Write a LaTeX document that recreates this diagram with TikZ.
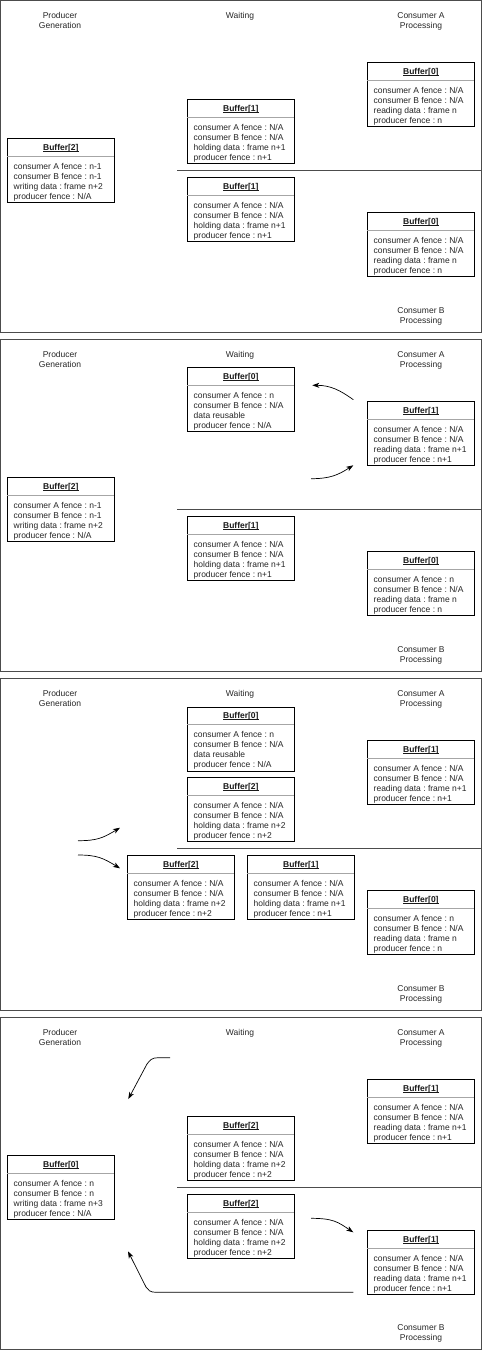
\documentclass[tikz,border=0pt]{standalone}
\usepackage{fontspec}
\setmainfont{Liberation Sans}
\usetikzlibrary{calc,arrows.meta}
\frenchspacing

\newcommand{\ulbuf}[1]{\setbox0\hbox{#1}\rlap{\rule[-1.3pt]{\wd0}{0.6pt}}\box0}

\tikzset{
  bufbox/.style={draw=black, line width=0.7pt, fill=white, minimum width=107pt,
    minimum height=64pt, inner sep=0pt, anchor=north west},
  buftitle/.style={font=\fontsize{8.5}{10}\selectfont\bfseries, anchor=base,
    inner sep=0pt, text=black!90},
  bufsep/.style={draw=black!35, line width=0.9pt},
  bufbody/.style={font=\fontsize{8.5}{10}\selectfont\frenchspacing, align=left, anchor=north west,
    inner sep=0pt, text=black!85},
  lbl/.style={font=\fontsize{8.5}{10}\selectfont, align=center, anchor=north,
    inner sep=0pt, text=black!85},
  panelframe/.style={draw=black!70, line width=0.8pt},
  divider/.style={draw=black!70, line width=0.8pt},
  flow/.style={draw=black, line width=0.7pt, -{Stealth[length=7pt,width=5pt,inset=2pt]}},
}

% #1 name, #2 left x, #3 top y, #4 title, #5-#8 body lines
\newcommand{\mkbuf}[8]{%
  \node[bufbox] (#1) at (#2,#3) {};
  \node[buftitle] (#1-t) at ($(#1.north)+(0,12)$) {\ulbuf{#4}};
  \draw[bufsep] ($(#1.north west)+(0.4,18)$) -- ($(#1.north east)+(-0.4,18)$);
  \node[bufbody] (#1-b) at ($(#1.north west)+(6.5,25)$) {#5\\#6\\#7\\#8};
}

% panel labels: #1 prefix
\newcommand{\mklabels}[1]{%
  \draw[panelframe] (0.5,0.5) rectangle (481,332.5);
  \node[lbl] (#1-lp) at (60,12.2) {Producer\\Generation};
  \node[lbl] (#1-lw) at (240,11.7) {Waiting};
  \node[lbl] (#1-la) at (421,12.2) {Consumer A\\Processing};
  \node[lbl] (#1-lb) at (421,307) {Consumer B\\Processing};
  \coordinate (#1-d1) at (177,170);
  \coordinate (#1-d2) at (481,170);
  \draw[divider] (#1-d1) -- (#1-d2);
}

\begin{document}
\begin{tikzpicture}[x=1pt,y=-1pt]
\useasboundingbox (0,0) rectangle (482,1350);

% ---------------- Panel 1 ----------------
\begin{scope}
\mklabels{p1}
\mkbuf{p1g}{7}{138}{Buffer[2]}{consumer A fence : n-1}{consumer B fence : n-1}{writing data : frame n+2}{producer fence : N/A}
\mkbuf{p1w1}{187}{99}{Buffer[1]}{consumer A fence : N/A}{consumer B fence : N/A}{holding data : frame n+1}{producer fence : n+1}
\mkbuf{p1w2}{187}{177}{Buffer[1]}{consumer A fence : N/A}{consumer B fence : N/A}{holding data : frame n+1}{producer fence : n+1}
\mkbuf{p1a}{367}{62}{Buffer[0]}{consumer A fence : N/A}{consumer B fence : N/A}{reading data : frame n}{producer fence : n}
\mkbuf{p1b}{367}{212}{Buffer[0]}{consumer A fence : N/A}{consumer B fence : N/A}{reading data : frame n}{producer fence : n}
\end{scope}

% ---------------- Panel 2 ----------------
\begin{scope}[yshift=-339pt]
\mklabels{p2}
\mkbuf{p2w1}{187}{28}{Buffer[0]}{consumer A fence : n}{consumer B fence : N/A}{data reusable}{producer fence : N/A}
\mkbuf{p2a}{367}{62}{Buffer[1]}{consumer A fence : N/A}{consumer B fence : N/A}{reading data : frame n+1}{producer fence : n+1}
\mkbuf{p2g}{7}{138}{Buffer[2]}{consumer A fence : n-1}{consumer B fence : n-1}{writing data : frame n+2}{producer fence : N/A}
\mkbuf{p2w2}{187}{177}{Buffer[1]}{consumer A fence : N/A}{consumer B fence : N/A}{holding data : frame n+1}{producer fence : n+1}
\mkbuf{p2b}{367}{212}{Buffer[0]}{consumer A fence : n}{consumer B fence : N/A}{reading data : frame n}{producer fence : n}
\coordinate (p2r1s) at (353.3,60.7);
\coordinate (p2r1e) at (312.3,46.3);
\draw[flow] (p2r1s) .. controls (340,51) and (330,46.3) .. (p2r1e);
\coordinate (p2r2s) at (311,139.7);
\coordinate (p2r2e) at (353.3,126.3);
\draw[flow] (p2r2s) .. controls (330,139.7) and (338,136) .. (p2r2e);
\end{scope}

% ---------------- Panel 3 ----------------
\begin{scope}[yshift=-678pt]
\mklabels{p3}
\mkbuf{p3w1}{187}{28.5}{Buffer[0]}{consumer A fence : n}{consumer B fence : N/A}{data reusable}{producer fence : N/A}
\mkbuf{p3w2}{187}{99}{Buffer[2]}{consumer A fence : N/A}{consumer B fence : N/A}{holding data : frame n+2}{producer fence : n+2}
\mkbuf{p3a}{367}{62}{Buffer[1]}{consumer A fence : N/A}{consumer B fence : N/A}{reading data : frame n+1}{producer fence : n+1}
\mkbuf{p3n2}{127}{177}{Buffer[2]}{consumer A fence : N/A}{consumer B fence : N/A}{holding data : frame n+2}{producer fence : n+2}
\mkbuf{p3n1}{247}{177}{Buffer[1]}{consumer A fence : N/A}{consumer B fence : N/A}{holding data : frame n+1}{producer fence : n+1}
\mkbuf{p3b}{367}{212}{Buffer[0]}{consumer A fence : n}{consumer B fence : N/A}{reading data : frame n}{producer fence : n}
\coordinate (p3u s) at (78,162.7);
\coordinate (p3u e) at (120,149.7);
\draw[flow] (p3u s) .. controls (97,162.7) and (103,160) .. (p3u e);
\coordinate (p3d s) at (78,177);
\coordinate (p3d e) at (120,190.3);
\draw[flow] (p3d s) .. controls (97,177) and (103,180) .. (p3d e);
\end{scope}

% ---------------- Panel 4 ----------------
\begin{scope}[yshift=-1017pt]
\mklabels{p4}
\mkbuf{p4a}{367}{62}{Buffer[1]}{consumer A fence : N/A}{consumer B fence : N/A}{reading data : frame n+1}{producer fence : n+1}
\mkbuf{p4w1}{187}{99}{Buffer[2]}{consumer A fence : N/A}{consumer B fence : N/A}{holding data : frame n+2}{producer fence : n+2}
\mkbuf{p4g}{7}{138}{Buffer[0]}{consumer A fence : n}{consumer B fence : n}{writing data : frame n+3}{producer fence : N/A}
\mkbuf{p4w2}{187}{177}{Buffer[2]}{consumer A fence : N/A}{consumer B fence : N/A}{holding data : frame n+2}{producer fence : n+2}
\mkbuf{p4b}{367}{213}{Buffer[1]}{consumer A fence : N/A}{consumer B fence : N/A}{reading data : frame n+1}{producer fence : n+1}
\coordinate (p4t s) at (170,40.7);
\coordinate (p4t e) at (128.3,82);
\draw[flow] (p4t s) -- (158,40.7) .. controls (152,40.7) and (150,43) .. (147,47) -- (p4t e);
\coordinate (p4r s) at (311,201.3);
\coordinate (p4r e) at (353.3,215.3);
\draw[flow] (p4r s) .. controls (333,201.3) and (338,205) .. (p4r e);
\coordinate (p4b s) at (353.3,275.3);
\coordinate (p4b e) at (128,234.3);
\draw[flow] (p4b s) -- (156,275.3) .. controls (150,275.3) and (148,273) .. (146,270) -- (p4b e);
\end{scope}

\end{tikzpicture}
\end{document}
